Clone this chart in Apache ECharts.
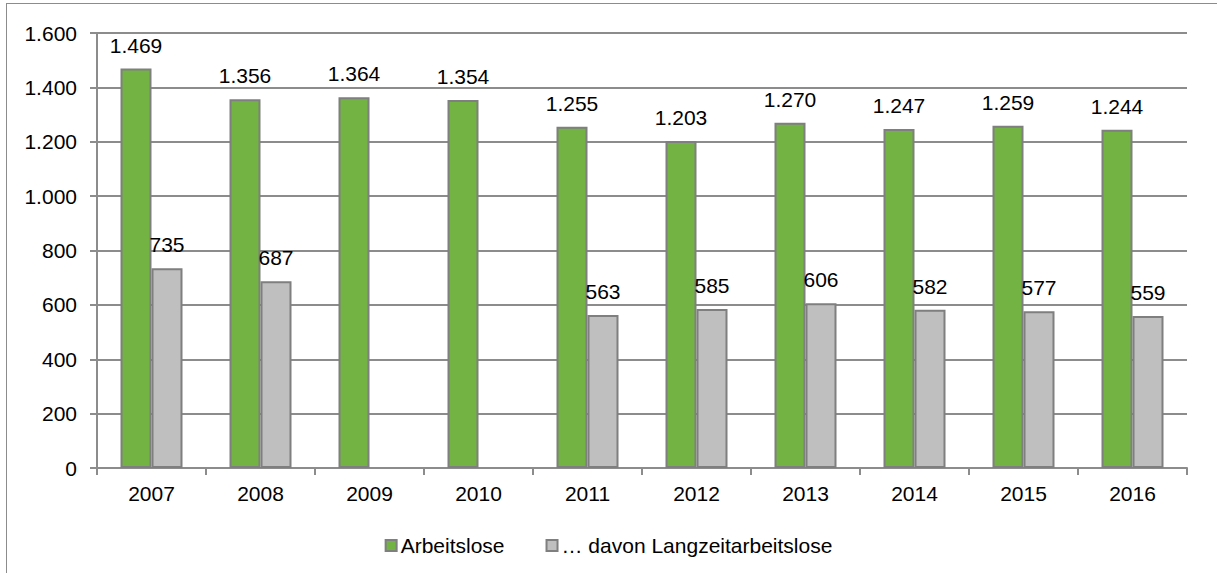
<!DOCTYPE html>
<html>
<head>
<meta charset="utf-8">
<script src="https://cdn.jsdelivr.net/npm/echarts@6/dist/echarts.min.js"></script>
<style>
  html, body { margin: 0; padding: 0; background: #fff; overflow: hidden; }
  .frame { position: absolute; left: 6px; top: 3px; width: 1230px; height: 600px; border: 1px solid #8c8c8c; }
  #chart { position: absolute; left: 0; top: 0; width: 1217px; height: 573px; }
</style>
</head>
<body>
<div class="frame"></div>
<div id="chart"></div>
<script>
const years = ['2007', '2008', '2009', '2010', '2011', '2012', '2013', '2014', '2015', '2016']
const arbeitslose = [1469, 1356, 1364, 1354, 1255, 1203, 1270, 1247, 1259, 1244]
const langzeit = [735, 687, null, null, 563, 585, 606, 582, 577, 559]
const seriesNames = ['Arbeitslose', '… davon Langzeitarbeitslose']

const fmt = v => String(v).replace(/\B(?=(\d{3})+(?!\d))/g, '.')

const chart = echarts.init(document.getElementById('chart'), null, { renderer: 'svg' })

const label = {
  show: true,
  position: 'top',
  distance: 13,
  color: '#000',
  fontSize: 21,
  fontFamily: 'Liberation Sans, Arial, sans-serif',
  formatter: p => fmt(p.value)
}

chart.setOption({
  animation: false,
  textStyle: { fontFamily: 'Liberation Sans, Arial, sans-serif' },
  grid: { left: 97, right: 30, top: 33, bottom: 105 },
  legend: {
    top: 530,
    left: 'center',
    itemWidth: 11,
    itemHeight: 11,
    itemGap: 41,
    icon: 'rect',
    textStyle: { fontSize: 21, color: '#000', padding: [0, 0, 0, -1] },
    data: seriesNames
  },
  xAxis: {
    type: 'category',
    data: years,
    axisLine: { lineStyle: { color: '#8c8c8c', width: 2 } },
    axisTick: { show: true, length: 7, lineStyle: { color: '#8c8c8c', width: 2 } },
    axisLabel: { color: '#000', fontSize: 21, margin: 15 }
  },
  yAxis: {
    type: 'value',
    min: 0,
    max: 1600,
    interval: 200,
    axisLine: { show: true, lineStyle: { color: '#8c8c8c', width: 2 } },
    axisTick: { show: true, length: 7, lineStyle: { color: '#8c8c8c', width: 2 } },
    splitLine: { lineStyle: { color: '#8c8c8c', width: 2 } },
    axisLabel: { color: '#000', fontSize: 21, margin: 20, formatter: fmt }
  },
  series: [
    {
      name: seriesNames[0],
      type: 'bar',
      data: arbeitslose,
      barWidth: 31,
      barGap: '0%',
      itemStyle: { color: '#72b343', borderColor: '#7f7f7f', borderWidth: 2 },
      label
    },
    {
      name: seriesNames[1],
      type: 'bar',
      data: langzeit,
      barWidth: 31,
      itemStyle: { color: '#bfbfbf', borderColor: '#7f7f7f', borderWidth: 2 },
      label
    }
  ]
})
</script>
</body>
</html>
